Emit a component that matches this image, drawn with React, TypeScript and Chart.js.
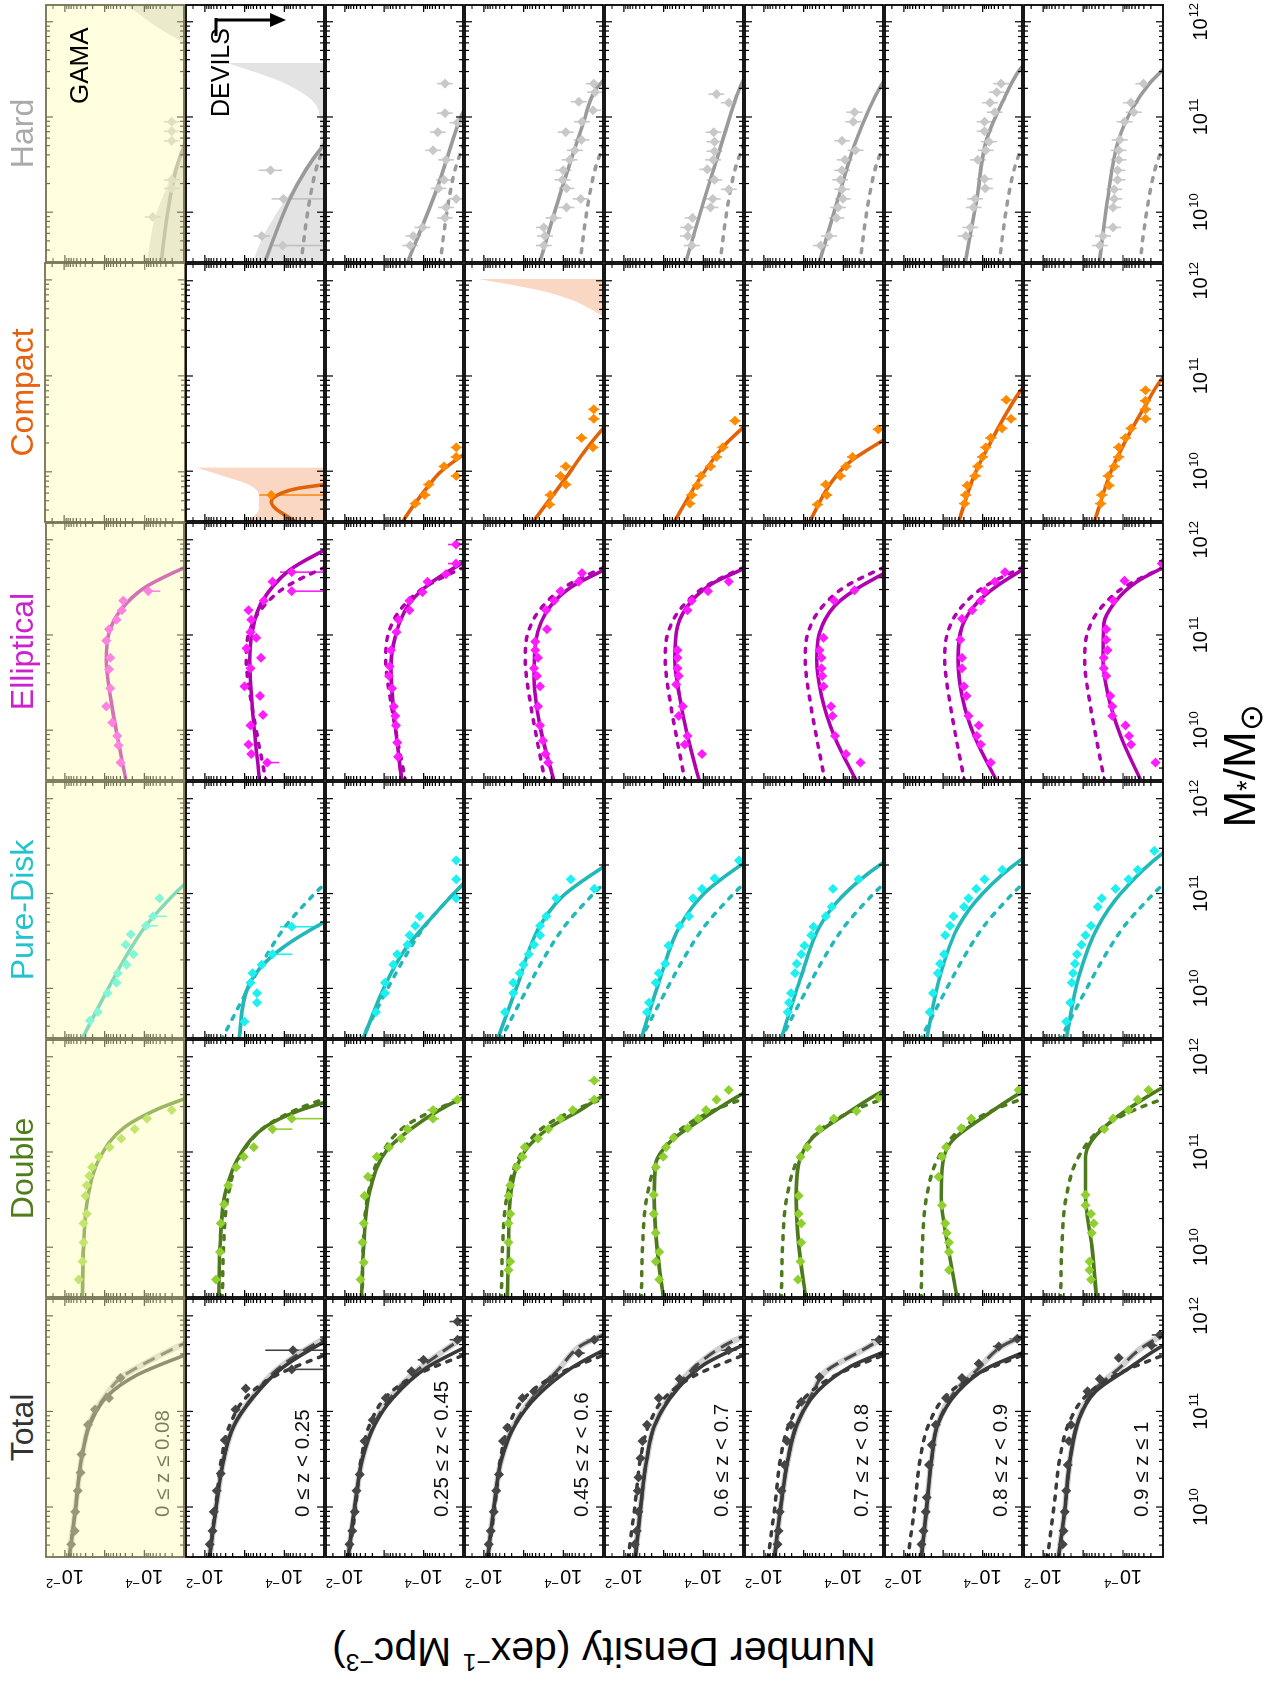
import React, { useEffect, useRef } from "react";
import { Chart, registerables } from "chart.js";

Chart.register(...registerables);

const FONT = '"Liberation Sans", Arial, Helvetica, sans-serif';

// ---------------- categories / labels ----------------
const MORPHS = ["Total", "Double", "Pure-Disk", "Elliptical", "Compact", "Hard"];
const Z_LABELS = [
  "0 ≤ z ≤ 0.08",
  "0 ≤ z < 0.25",
  "0.25 ≤ z < 0.45",
  "0.45 ≤ z < 0.6",
  "0.6 ≤ z < 0.7",
  "0.7 ≤ z < 0.8",
  "0.8 ≤ z < 0.9",
  "0.9 ≤ z ≤ 1",
];
const MASS_TICK_LABELS = [10, 11, 12]; // log10 M*/Msun
const DENS_TICK_LABELS = [-2, -4]; // log10 phi

// axis limits (log10 units)
const MASS_MIN = 9.477;
const MASS_MAX = 12.176;
const DENS_MIN = -5;
const DENS_MAX = -1.523;

// ---------------- colours ----------------
const TITLE_COLORS = ["#333333", "#4f7d1a", "#22c3cc", "#cc22cc", "#e8620e", "#aaaaaa"];
const LINE_COLORS = ["#3a3a3a", "#4d7a1c", "#22b8b8", "#b000b0", "#e26208", "#9a9a9a"];
const POINT_COLORS = ["#454545", "#8fd030", "#1cf0f0", "#ff1cff", "#ff8a00", "#c8c8c8"];
const DEFAULT_ERR = [0.06, 0.08, 0.1, 0.1, 0.14, 0.2];

// ---------------- data: [log M, log phi] fits; points [log M, log phi, err(, errLow)] ----------------
const FIT_TOTAL = [
  [[9.45,-2.1],[9.99,-2.27],[10.51,-2.42],[10.86,-2.63],[11.17,-3.09],[11.38,-3.81],[11.59,-5.02],[11.7,-5.7]],
  [[9.45,-2.11],[9.99,-2.28],[10.51,-2.48],[10.86,-2.74],[11.14,-3.2],[11.45,-3.93],[11.73,-5.01],[11.85,-5.6]],
  [[9.45,-2.08],[9.99,-2.25],[10.51,-2.45],[10.86,-2.76],[11.14,-3.22],[11.45,-4.05],[11.66,-5.0],[11.78,-5.6]],
  [[9.45,-2.09],[9.99,-2.25],[10.51,-2.45],[10.86,-2.79],[11.17,-3.36],[11.45,-4.19],[11.64,-5.01],[11.76,-5.6]],
  [[9.45,-2.28],[9.99,-2.42],[10.51,-2.58],[10.86,-2.78],[11.21,-3.3],[11.49,-4.02],[11.69,-4.98],[11.8,-5.6]],
  [[9.45,-2.26],[9.99,-2.42],[10.51,-2.61],[10.86,-2.83],[11.21,-3.35],[11.47,-4.18],[11.61,-4.95],[11.72,-5.6]],
  [[9.45,-2.44],[9.99,-2.58],[10.51,-2.71],[10.86,-2.86],[11.21,-3.38],[11.45,-4.1],[11.61,-4.99],[11.72,-5.6]],
  [[9.45,-2.38],[9.99,-2.55],[10.51,-2.68],[10.93,-2.91],[11.21,-3.32],[11.45,-4.14],[11.69,-5.01],[11.8,-5.6]],
];
const DASH_TOTAL = [
  [[9.45,-2.1],[10.0,-2.27],[10.5,-2.42],[10.9,-2.64],[11.15,-3.0],[11.35,-3.4],[11.5,-4.0],[11.71,-5.0],[11.85,-5.7]],
  [[9.45,-2.11],[9.99,-2.28],[10.51,-2.48],[10.86,-2.74],[11.14,-3.18],[11.45,-3.85],[11.76,-5.0],[11.88,-5.6]],
  [[9.45,-2.08],[9.99,-2.25],[10.51,-2.45],[10.86,-2.74],[11.14,-3.15],[11.4,-3.75],[11.59,-4.36],[11.77,-5.0],[11.9,-5.5]],
  [[9.45,-2.09],[9.99,-2.25],[10.51,-2.45],[10.86,-2.76],[11.17,-3.28],[11.45,-3.9],[11.69,-4.45],[11.8,-5.0],[11.9,-5.5]],
  [[9.45,-2.28],[9.99,-2.42],[10.51,-2.58],[10.86,-2.78],[11.21,-3.25],[11.49,-3.85],[11.69,-4.53],[11.78,-4.98],[11.88,-5.5]],
  [[9.45,-2.26],[9.99,-2.42],[10.51,-2.61],[10.86,-2.83],[11.21,-3.25],[11.42,-3.56],[11.64,-4.48],[11.75,-4.95],[11.85,-5.5]],
  [[9.45,-2.44],[9.99,-2.58],[10.51,-2.71],[10.86,-2.86],[11.21,-3.3],[11.45,-3.9],[11.69,-4.52],[11.78,-4.99],[11.88,-5.5]],
  [[9.45,-2.38],[9.99,-2.55],[10.51,-2.68],[10.93,-2.9],[11.21,-3.25],[11.45,-3.9],[11.66,-4.45],[11.8,-5.0],[11.9,-5.5]],
];
const PTS_TOTAL = [
  [[11.35,-3.4],[11.14,-3.11],[11.02,-2.76],[10.86,-2.58],[10.55,-2.42],[10.36,-2.39],[10.17,-2.32],[9.95,-2.26],[9.75,-2.25],[9.61,-2.16]],
  [[11.64,-4.22,0.7,0.8],[11.44,-4.19,0.05,0.8],[11.24,-3.03],[11.02,-2.77],[10.7,-2.5],[10.35,-2.4],[10.17,-2.3],[9.95,-2.22],[9.75,-2.19],[9.61,-2.12]],
  [[11.94,-4.86,0.2],[11.75,-4.86,0.2],[11.54,-4.0,0.15],[11.42,-3.69,0.1],[11.14,-3.04],[10.91,-2.71],[10.69,-2.5],[10.34,-2.38],[10.17,-2.3],[9.95,-2.25],[9.75,-2.19],[9.61,-2.12]],
  [[11.75,-4.78,0.2],[11.61,-4.39,0.15],[11.33,-3.67],[11.21,-3.26],[11.14,-2.97],[10.83,-2.59],[10.69,-2.48],[10.34,-2.38],[10.17,-2.31],[9.95,-2.25],[9.75,-2.17],[9.61,-2.12]],
  [[11.64,-4.64,0.2],[11.45,-3.81],[11.34,-3.4],[11.14,-2.88],[10.86,-2.58],[10.69,-2.47],[10.51,-2.42],[10.31,-2.37],[10.17,-2.35],[9.95,-2.37],[9.75,-2.32],[9.61,-2.27]],
  [[11.75,-4.9,0.2],[11.36,-3.4],[11.1,-2.94],[10.86,-2.68],[10.69,-2.58],[10.44,-2.52],[10.17,-2.44],[9.95,-2.4],[9.75,-2.37],[9.61,-2.34]],
  [[11.76,-4.88,0.2],[11.68,-4.41,0.15],[11.5,-3.9],[11.35,-3.48],[11.14,-3.07],[10.86,-2.81],[10.65,-2.71],[10.44,-2.64],[10.1,-2.58],[9.95,-2.56],[9.75,-2.5],[9.61,-2.45]],
  [[11.8,-4.92,0.2],[11.69,-4.71,0.15],[11.56,-3.89],[11.34,-3.42],[11.21,-3.11],[10.86,-2.7],[10.69,-2.65],[10.44,-2.62],[10.17,-2.58],[9.95,-2.54],[9.75,-2.51],[9.61,-2.49]],
];

const FIT_DOUBLE = [
  [[9.45,-2.44],[10.01,-2.47],[10.53,-2.58],[10.95,-2.89],[11.26,-3.5],[11.45,-4.33],[11.56,-5.02],[11.68,-5.8]],
  [[9.45,-2.35],[10.01,-2.38],[10.6,-2.53],[10.98,-2.9],[11.26,-3.51],[11.43,-4.34],[11.52,-5.01],[11.62,-5.8]],
  [[9.45,-2.42],[10.01,-2.48],[10.6,-2.64],[11.02,-3.07],[11.26,-3.74],[11.43,-4.36],[11.57,-5.0],[11.67,-5.6]],
  [[9.45,-2.59],[10.01,-2.62],[10.6,-2.69],[11.02,-3.05],[11.26,-3.67],[11.43,-4.39],[11.59,-5.01],[11.7,-5.6]],
  [[9.45,-3.0],[10.01,-2.83],[10.53,-2.76],[10.88,-2.8],[11.12,-3.2],[11.36,-4.02],[11.61,-4.98],[11.7,-5.4]],
  [[9.45,-3.06],[10.01,-2.88],[10.53,-2.81],[10.88,-2.88],[11.16,-3.25],[11.4,-4.07],[11.63,-4.95],[11.72,-5.4]],
  [[9.45,-3.36],[10.01,-3.12],[10.53,-2.95],[10.81,-2.97],[11.12,-3.23],[11.36,-4.0],[11.63,-4.99],[11.72,-5.4]],
  [[9.45,-3.34],[10.01,-3.22],[10.53,-3.06],[10.95,-3.06],[11.12,-3.22],[11.33,-3.73],[11.54,-4.45],[11.68,-5.01],[11.78,-5.5]],
];
const PTS_DOUBLE = [
  [[11.44,-4.69],[11.35,-4.07],[11.24,-3.76],[11.14,-3.42],[11.05,-3.12],[10.95,-2.85],[10.84,-2.68],[10.75,-2.61],[10.65,-2.55],[10.54,-2.52],[10.35,-2.55],[10.25,-2.47],[10.05,-2.47],[9.85,-2.44],[9.66,-2.35]],
  [[11.35,-4.19,0.05,0.8],[11.24,-3.7,0.1,0.5],[11.05,-3.23],[10.95,-2.98],[10.84,-2.79],[10.65,-2.59],[10.45,-2.48],[10.25,-2.4],[9.95,-2.38],[9.66,-2.28]],
  [[11.55,-4.86,0.15],[11.44,-4.24,0.15],[11.35,-4.24,0.15],[11.24,-3.59],[11.14,-3.43],[11.05,-3.12],[10.95,-2.81],[10.74,-2.59],[10.54,-2.5],[10.25,-2.48],[10.05,-2.45],[9.84,-2.48],[9.66,-2.4]],
  [[11.75,-4.78,0.15],[11.55,-4.78,0.15],[11.44,-4.24],[11.35,-3.93],[11.24,-3.62],[11.14,-3.36],[11.05,-3.03],[10.95,-2.97],[10.84,-2.82],[10.65,-2.66],[10.54,-2.62],[10.35,-2.66],[10.25,-2.62],[10.05,-2.62],[9.85,-2.66],[9.76,-2.62]],
  [[11.65,-4.64],[11.55,-4.33],[11.44,-4.07],[11.35,-3.87],[11.25,-3.61],[11.15,-3.25],[11.05,-3.06],[10.95,-2.99],[10.84,-2.8],[10.55,-2.75],[10.35,-2.75],[10.15,-2.8],[9.95,-2.89],[9.85,-2.8],[9.66,-2.89]],
  [[11.57,-4.9],[11.43,-4.33],[11.35,-3.76],[11.24,-3.4],[11.05,-3.09],[10.95,-2.92],[10.54,-2.88],[10.35,-2.88],[10.25,-2.94],[10.05,-2.94],[9.85,-2.92],[9.66,-2.86]],
  [[11.65,-4.91],[11.35,-3.71],[11.25,-3.46],[11.05,-3.07],[10.95,-2.97],[10.74,-2.88],[10.44,-2.97],[10.25,-3.05],[10.15,-3.09],[10.05,-3.15],[9.95,-3.15],[9.76,-3.15]],
  [[11.65,-4.64],[11.55,-4.37],[11.44,-4.14],[11.35,-3.75],[11.24,-3.53],[10.55,-3.06],[10.44,-3.06],[10.35,-3.2],[10.25,-3.27],[10.15,-3.22],[9.85,-3.16],[9.76,-3.16],[9.66,-3.2]],
];

const FIT_DISK = [
  [[9.45,-2.41],[9.92,-2.99],[10.31,-3.5],[10.65,-4.02],[10.9,-4.54],[11.1,-5.02],[11.25,-5.5]],
  [[9.45,-2.85],[10.03,-3.1],[10.27,-3.51],[10.48,-4.13],[10.7,-5.01],[10.85,-5.7]],
  [[9.45,-2.45],[10.03,-3.02],[10.41,-3.53],[10.72,-4.15],[11.1,-5.0],[11.25,-5.4]],
  [[9.45,-2.33],[10.03,-2.84],[10.62,-3.36],[10.97,-3.98],[11.28,-5.01],[11.4,-5.5]],
  [[9.45,-2.42],[10.13,-2.93],[10.65,-3.4],[11.0,-4.02],[11.31,-4.98],[11.42,-5.4]],
  [[9.45,-2.42],[10.13,-2.94],[10.65,-3.4],[10.97,-3.97],[11.31,-4.95],[11.42,-5.4]],
  [[9.45,-2.57],[10.13,-2.92],[10.65,-3.38],[11.0,-4.0],[11.36,-4.99],[11.46,-5.4]],
  [[9.45,-2.57],[10.13,-2.9],[10.65,-3.37],[11.0,-3.94],[11.43,-5.01],[11.53,-5.4]],
];
const PTS_DISK = [
  [[10.95,-4.38],[10.76,-4.22,0.1,0.35],[10.66,-4.04,0.1,0.3],[10.57,-3.66],[10.46,-3.53],[10.36,-3.73],[10.25,-3.55],[10.16,-3.33],[10.06,-3.3],[9.95,-3.07],[9.75,-2.83],[9.66,-2.63]],
  [[10.65,-4.19,0.3,0.7],[10.36,-3.7,0.1,0.5],[10.25,-3.43],[10.16,-3.2],[10.06,-3.15],[9.95,-3.31],[9.85,-3.31],[9.65,-3.0]],
  [[11.35,-4.83],[11.15,-4.83],[10.95,-4.83],[10.76,-3.9],[10.66,-3.79],[10.56,-3.64],[10.46,-3.59],[10.36,-3.33],[10.25,-3.23],[10.06,-3.02],[9.95,-3.02],[9.75,-2.79]],
  [[11.15,-4.19],[11.05,-4.78],[10.95,-3.82],[10.76,-3.57],[10.66,-3.41],[10.56,-3.41],[10.46,-3.26],[10.36,-3.13],[10.25,-3.0],[10.16,-2.9],[10.06,-2.74],[9.95,-2.74],[9.75,-2.53]],
  [[11.35,-4.9],[11.16,-4.28],[11.05,-3.97],[10.95,-3.74],[10.76,-3.64],[10.66,-3.4],[10.45,-3.12],[10.26,-3.04],[10.16,-2.88],[10.06,-2.8],[9.85,-2.63],[9.75,-2.58]],
  [[11.15,-4.38],[11.05,-3.74],[10.86,-3.71],[10.76,-3.56],[10.65,-3.25],[10.56,-3.19],[10.45,-3.02],[10.36,-2.94],[10.26,-2.83],[10.16,-2.78],[9.95,-2.68],[9.85,-2.63],[9.75,-2.6]],
  [[11.25,-4.5],[11.15,-4.05],[11.05,-3.84],[10.95,-3.64],[10.86,-3.53],[10.76,-3.26],[10.66,-3.17],[10.56,-3.05],[10.36,-3.02],[10.26,-2.92],[10.16,-2.86],[9.95,-2.74],[9.75,-2.66]],
  [[11.45,-4.78],[11.25,-4.37],[11.15,-4.14],[11.05,-3.81],[10.95,-3.47],[10.86,-3.37],[10.66,-3.2],[10.56,-3.06],[10.46,-2.96],[10.36,-2.85],[10.26,-2.8],[10.16,-2.75],[10.06,-2.72],[9.85,-2.68],[9.65,-2.58]],
];

const FIT_ELL = [
  [[9.45,-3.55],[9.87,-3.35],[10.29,-3.17],[10.74,-3.04],[11.02,-3.11],[11.26,-3.4],[11.5,-4.02],[11.71,-5.02],[11.85,-5.8]],
  [[9.45,-3.38],[10.22,-3.2],[10.74,-3.13],[11.05,-3.2],[11.33,-3.41],[11.68,-4.13],[11.89,-5.0],[12.0,-5.5]],
  [[9.45,-3.45],[10.05,-3.28],[10.64,-3.17],[10.98,-3.28],[11.33,-3.64],[11.54,-4.16],[11.76,-5.0],[11.9,-5.6]],
  [[9.45,-3.77],[10.05,-3.41],[10.57,-3.26],[10.95,-3.31],[11.3,-3.67],[11.5,-4.19],[11.68,-5.01],[11.8,-5.6]],
  [[9.45,-3.91],[9.94,-3.6],[10.36,-3.4],[10.74,-3.28],[11.09,-3.35],[11.36,-3.71],[11.54,-4.23],[11.69,-4.98],[11.8,-5.5]],
  [[9.45,-4.35],[9.94,-3.77],[10.36,-3.45],[10.74,-3.33],[11.02,-3.4],[11.3,-3.77],[11.47,-4.28],[11.63,-4.95],[11.75,-5.5]],
  [[9.45,-4.38],[9.94,-3.79],[10.36,-3.48],[10.74,-3.38],[11.09,-3.48],[11.33,-3.84],[11.5,-4.31],[11.68,-4.99],[11.8,-5.5]],
  [[9.45,-4.47],[9.94,-3.94],[10.36,-3.63],[10.74,-3.5],[11.12,-3.52],[11.36,-3.83],[11.56,-4.35],[11.71,-5.01],[11.82,-5.5]],
];
const PTS_ELL = [
  [[11.46,-4.1,0.1,0.3],[11.36,-3.47],[11.26,-3.43],[11.16,-3.3],[11.06,-3.11],[10.94,-3.04],[10.76,-3.14],[10.64,-3.11],[10.44,-3.14],[10.25,-3.04],[10.08,-3.19],[9.94,-3.32],[9.84,-3.35],[9.66,-3.4]],
  [[11.66,-4.19,0.3,0.8],[11.56,-3.7],[11.46,-4.19,0.05,0.8],[11.36,-3.48],[11.26,-3.1],[11.16,-3.17],[11.03,-3.15],[10.97,-3.29],[10.86,-3.05],[10.76,-3.41],[10.65,-3.15],[10.46,-3.0],[10.36,-3.39],[10.16,-3.46],[10.05,-3.15],[9.85,-3.1],[9.75,-3.17],[9.66,-3.57,0.1,0.3]],
  [[11.95,-4.82,0.2],[11.75,-4.82,0.2],[11.64,-4.57],[11.56,-4.1],[11.45,-3.97],[11.36,-3.64],[11.26,-3.64],[11.16,-3.36],[11.03,-3.31],[10.84,-3.17],[10.67,-3.14],[10.57,-3.12],[10.44,-3.2],[10.25,-3.24],[10.15,-3.28],[10.05,-3.3],[9.87,-3.33],[9.72,-3.35]],
  [[11.65,-4.47],[11.56,-4.39],[11.46,-3.93],[11.36,-3.77],[11.26,-3.57],[11.06,-3.59],[10.93,-3.29],[10.84,-3.29],[10.76,-3.36],[10.65,-3.26],[10.57,-3.34],[10.46,-3.41],[10.25,-3.36],[10.05,-3.41],[9.89,-3.49],[9.75,-3.55],[9.66,-3.62]],
  [[11.56,-4.64],[11.46,-4.12],[11.36,-3.71],[11.26,-3.6],[10.84,-3.35],[10.76,-3.35],[10.65,-3.35],[10.57,-3.38],[10.48,-3.32],[10.25,-3.48],[10.15,-3.38],[9.94,-3.6],[9.85,-3.53],[9.75,-3.97]],
  [[11.47,-4.28],[11.36,-3.77],[10.97,-3.5],[10.84,-3.4],[10.76,-3.45],[10.65,-3.45],[10.57,-3.47],[10.46,-3.5],[10.25,-3.69],[10.15,-3.73],[9.94,-3.79],[9.75,-4.07],[9.66,-4.43]],
  [[11.66,-4.57],[11.56,-4.31],[11.46,-4.05],[11.36,-3.95],[11.26,-3.74],[11.17,-3.48],[10.95,-3.43],[10.76,-3.48],[10.65,-3.48],[10.46,-3.53],[10.36,-3.59],[10.15,-3.64],[10.05,-3.9],[9.94,-3.85],[9.85,-3.95],[9.66,-4.21]],
  [[11.75,-4.97],[11.57,-4.04],[11.36,-3.76],[11.06,-3.58],[10.95,-3.58],[10.84,-3.61],[10.76,-3.52],[10.65,-3.52],[10.57,-3.58],[10.36,-3.68],[10.25,-3.73],[10.15,-3.73],[10.05,-4.06],[9.94,-4.15],[9.85,-4.2],[9.66,-4.81]],
];

const FIT_COMPACT = [
  [],
  [[9.45,-4.35],[9.51,-4.13],[9.61,-3.77],[9.68,-3.67],[9.77,-3.93],[9.82,-4.34],[9.86,-5.01],[9.92,-5.8]],
  [[9.45,-3.43],[9.7,-3.85],[9.86,-4.15],[10.0,-4.45],[10.17,-5.0],[10.3,-5.5]],
  [[9.45,-3.2],[9.94,-4.08],[10.2,-4.52],[10.45,-5.01],[10.6,-5.4]],
  [[9.45,-3.24],[9.96,-3.97],[10.27,-4.53],[10.45,-4.98],[10.6,-5.4]],
  [[9.45,-3.13],[9.86,-3.66],[10.1,-4.17],[10.31,-4.95],[10.42,-5.4]],
  [[9.45,-3.38],[9.96,-3.79],[10.31,-4.21],[10.62,-4.62],[10.86,-4.99],[11.0,-5.3]],
  [[9.45,-3.27],[10.03,-3.73],[10.38,-4.14],[10.69,-4.56],[10.99,-5.01],[11.1,-5.3]],
];
const PTS_COMPACT = [
  [],
  [[9.75,-3.67,0.3,1.4]],
  [[10.25,-4.83],[10.15,-4.83],[10.05,-4.52],[9.95,-4.83],[9.86,-4.13],[9.75,-4.03],[9.66,-3.79]],
  [[10.65,-4.77],[10.55,-4.77],[10.35,-4.46],[10.25,-4.75],[10.05,-4.06],[9.95,-3.93],[9.86,-4.06],[9.75,-3.67],[9.65,-3.65]],
  [[10.53,-4.8],[10.25,-4.49],[10.15,-4.33],[10.05,-4.18],[9.95,-3.94],[9.85,-3.85],[9.75,-3.71],[9.66,-3.66]],
  [[10.44,-4.88],[10.15,-4.23],[10.05,-4.07],[9.95,-3.92],[9.86,-3.56],[9.75,-3.58],[9.65,-3.35]],
  [[10.75,-4.6],[10.55,-4.72],[10.45,-4.49],[10.35,-4.21],[10.25,-4.08],[10.15,-4.0],[10.05,-3.88],[9.95,-3.81],[9.85,-3.61],[9.75,-3.57],[9.66,-3.54]],
  [[10.85,-4.56],[10.74,-4.56],[10.65,-4.56],[10.55,-4.56],[10.45,-4.2],[10.35,-4.06],[10.25,-3.89],[10.15,-3.89],[10.05,-3.78],[9.95,-3.63],[9.85,-3.65],[9.75,-3.47],[9.66,-3.44]],
];

const FIT_HARD = [
  [[9.45,-4.42],[9.8,-4.52],[10.13,-4.64],[10.45,-4.8],[10.7,-5.0],[11.0,-5.25]],
  [[9.45,-3.49],[9.8,-3.8],[10.13,-4.13],[10.45,-4.55],[10.69,-4.96],[10.85,-5.3]],
  [[9.45,-3.57],[10.27,-4.36],[10.93,-4.88],[11.05,-5.0],[11.2,-5.2]],
  [[9.45,-3.39],[10.27,-3.98],[10.93,-4.5],[11.28,-4.8],[11.38,-5.0],[11.5,-5.2]],
  [[9.45,-3.54],[10.13,-4.02],[10.76,-4.49],[11.21,-4.83],[11.38,-5.0],[11.5,-5.2]],
  [[9.45,-3.38],[10.13,-3.86],[10.76,-4.33],[11.33,-4.95],[11.45,-5.15]],
  [[9.45,-3.55],[10.13,-3.85],[10.76,-4.1],[11.17,-4.52],[11.49,-4.93],[11.6,-5.15]],
  [[9.45,-3.4],[10.13,-3.61],[10.76,-3.89],[11.1,-4.25],[11.35,-4.66],[11.5,-5.0],[11.6,-5.2]],
];
const PTS_HARD = [
  [[10.95,-4.69],[10.85,-4.69],[10.75,-4.69],[10.34,-4.69],[10.25,-4.69],[9.95,-4.21]],
  [[10.44,-3.65,0.3],[10.14,-3.98,0.3,1.0],[9.75,-3.43,0.2],[9.65,-3.96,0.25,1.0]],
  [[11.35,-4.54],[11.04,-4.54],[10.84,-4.36],[10.94,-4.86],[10.65,-4.24],[10.55,-4.57],[10.34,-4.52],[10.25,-4.38],[10.14,-4.83],[10.05,-4.57],[9.94,-4.54],[9.84,-3.97],[9.75,-3.74],[9.65,-3.66]],
  [[11.35,-4.77],[11.26,-4.8],[11.16,-4.39],[11.07,-4.75],[10.95,-4.47],[10.84,-4.06],[10.76,-4.46],[10.65,-4.29],[10.55,-4.16],[10.44,-4.0],[10.34,-3.98],[10.25,-4.08],[10.14,-4.44],[10.05,-4.08],[9.94,-3.75],[9.84,-3.51],[9.75,-3.54],[9.65,-3.51]],
  [[11.24,-4.33],[11.15,-4.64],[10.84,-4.26],[10.74,-4.28],[10.64,-4.28],[10.55,-4.25],[10.45,-4.1],[10.34,-4.28],[10.24,-4.64],[10.14,-4.24],[10.05,-4.18],[9.94,-3.73],[9.84,-3.62],[9.75,-3.61],[9.65,-3.71]],
  [[11.05,-4.28],[10.95,-4.25],[10.75,-3.97],[10.65,-4.31],[10.55,-4.04],[10.44,-3.97],[10.34,-3.92],[10.24,-3.97],[10.14,-3.99],[10.05,-3.87],[9.94,-3.83],[9.75,-3.64],[9.65,-3.43]],
  [[11.35,-4.47],[11.26,-4.36],[11.15,-4.19],[11.05,-4.31],[10.95,-4.05],[10.85,-4.05],[10.74,-4.16],[10.65,-4.08],[10.55,-3.88],[10.35,-4.05],[10.25,-4.07],[10.14,-3.81],[10.05,-3.77],[9.84,-3.69],[9.75,-3.57]],
  [[11.35,-4.51],[11.15,-4.2],[11.05,-4.27],[10.95,-4.04],[10.76,-3.92],[10.65,-3.89],[10.55,-3.89],[10.44,-3.86],[10.34,-3.86],[10.24,-3.78],[10.14,-3.78],[10.05,-3.75],[9.84,-3.75],[9.75,-3.5],[9.65,-3.42]],
];

// confidence regions (upper boundary, filled towards low density)
const BAND_HARD_GAMA = [[9.45,-4.05],[9.96,-4.28],[10.3,-4.6],[10.7,-4.98],[11.0,-5.3],[11.4,-5.3],[11.76,-5.02],[11.94,-4.33],[12.08,-3.87],[12.2,-3.45]];
const BAND_HARD_Z1 = [[9.45,-3.18],[9.78,-3.51],[10.27,-4.24],[10.76,-4.91],[11.07,-4.86],[11.35,-4.03],[11.57,-2.55]];
const BAND_COMPACT_Z1 = [[9.45,-3.05],[9.61,-3.36],[9.75,-3.36],[9.86,-3.1],[9.96,-2.38],[10.04,-1.76]];
const BAND_COMPACT_Z3 = [[11.6,-5.1],[11.7,-4.7],[11.8,-4.2],[11.9,-3.4],[12.02,-1.85]];

const FITS = [FIT_TOTAL, FIT_DOUBLE, FIT_DISK, FIT_ELL, FIT_COMPACT, FIT_HARD];
const PTS = [PTS_TOTAL, PTS_DOUBLE, PTS_DISK, PTS_ELL, PTS_COMPACT, PTS_HARD];
const BANDS = [
  { c: 5, r: 0, pts: BAND_HARD_GAMA, color: "rgba(175,175,175,0.45)" },
  { c: 5, r: 1, pts: BAND_HARD_Z1, color: "rgba(175,175,175,0.35)" },
  { c: 4, r: 1, pts: BAND_COMPACT_Z1, color: "rgba(240,140,80,0.35)" },
  { c: 4, r: 3, pts: BAND_COMPACT_Z3, color: "rgba(240,140,80,0.35)" },
];

// ---------------- layout (landscape figure, rotated onto the page) ----------------
const FIG_W = 1704;
const FIG_H = 1281;
const COL_EDGES = [147, 406, 665, 923, 1182, 1441, 1700];
const ROW_EDGES = [45, 185, 325, 464, 604, 744, 884, 1023, 1163];

const PANELS: any[] = [];
for (let c = 0; c < 6; c++) {
  for (let r = 0; r < 8; r++) {
    const padL = c === 0 ? 48 : 4;
    const padR = 4;
    const padT = 4;
    const padB = r === 7 ? 62 : 4;
    const x0 = COL_EDGES[c];
    const x1 = COL_EDGES[c + 1];
    const y0 = ROW_EDGES[r];
    const y1 = ROW_EDGES[r + 1];
    PANELS.push({
      c, r, padL, padR, padT, padB,
      left: x0 - padL, top: y0 - padT,
      w: x1 - x0 + padL + padR, h: y1 - y0 + padT + padB,
    });
  }
}

const xy = (a: number[][]) => a.map((p) => ({ x: p[0], y: p[1] }));

function buildDatasets(c: number, r: number) {
  const ds: any[] = [];
  const lc = LINE_COLORS[c];
  const pc = POINT_COLORS[c];
  BANDS.filter((b) => b.c === c && b.r === r).forEach((b) => {
    ds.push({
      data: xy(b.pts), fill: "start", backgroundColor: b.color, borderWidth: 0,
      pointRadius: 0, cubicInterpolationMode: "monotone", clip: 0, order: 6,
    });
  });
  if (c === 0) {
    ds.push({
      data: xy(DASH_TOTAL[r]), borderColor: "rgba(190,190,190,0.7)", borderWidth: 6,
      pointRadius: 0, cubicInterpolationMode: "monotone", clip: 0, order: 5,
    });
    ds.push({
      data: xy(DASH_TOTAL[r]), borderColor: "#4a4a4a", borderWidth: 3, borderDash: [13, 7],
      pointRadius: 0, cubicInterpolationMode: "monotone", clip: 0, order: 4,
    });
  }
  const fits = FITS[c];
  if (r > 0 && fits[0].length) {
    ds.push({
      data: xy(fits[0]), borderColor: lc, borderWidth: 3.5, borderDash: [4, 8],
      borderCapStyle: "round", pointRadius: 0, cubicInterpolationMode: "monotone", clip: 0, order: 3,
    });
  }
  if (fits[r].length) {
    ds.push({
      data: xy(fits[r]), borderColor: lc, borderWidth: 3.6, borderJoinStyle: "round",
      pointRadius: 0, cubicInterpolationMode: "monotone", clip: 0, order: 2,
    });
  }
  const pts = PTS[c][r];
  if (pts.length) {
    ds.push({
      data: xy(pts), showLine: false, pointStyle: "rectRot", pointRadius: 5,
      pointBackgroundColor: pc, pointBorderColor: pc, pointBorderWidth: 0, clip: 0, order: 1,
    });
  }
  return ds;
}

function drawPow(ctx: CanvasRenderingContext2D, cx: number, baseY: number, exp: string) {
  ctx.font = `20px ${FONT}`;
  const w1 = ctx.measureText("10").width;
  ctx.font = `13px ${FONT}`;
  const w2 = ctx.measureText(exp).width;
  const start = cx - (w1 + w2 + 1) / 2;
  ctx.font = `20px ${FONT}`;
  ctx.fillText("10", start, baseY);
  ctx.font = `13px ${FONT}`;
  ctx.fillText(exp, start + w1 + 1, baseY - 9);
}

function makePlugin(c: number, r: number) {
  const pts = PTS[c][r];
  return {
    id: `panel_${c}_${r}`,
    beforeDatasetsDraw(chart: any) {
      const { ctx, chartArea: a } = chart;
      const xs = chart.scales.x;
      const ys = chart.scales.y;
      ctx.save();
      ctx.beginPath();
      ctx.rect(a.left, a.top, a.right - a.left, a.bottom - a.top);
      ctx.clip();
      ctx.strokeStyle = POINT_COLORS[c];
      ctx.lineWidth = 1.6;
      pts.forEach((p: number[]) => {
        const eHi = p.length > 2 ? p[2] : DEFAULT_ERR[c];
        const eLo = p.length > 3 ? p[3] : eHi;
        const px = xs.getPixelForValue(p[0]);
        ctx.beginPath();
        ctx.moveTo(px, ys.getPixelForValue(p[1] + eHi));
        ctx.lineTo(px, ys.getPixelForValue(p[1] - eLo));
        ctx.stroke();
      });
      ctx.restore();
    },
    afterDatasetsDraw(chart: any) {
      const { ctx, chartArea: a } = chart;
      const xs = chart.scales.x;
      const ys = chart.scales.y;
      const w = a.right - a.left;
      const h = a.bottom - a.top;
      ctx.save();
      // redshift label
      if (c === 0) {
        ctx.fillStyle = "#111";
        ctx.font = `20.5px ${FONT}`;
        ctx.textBaseline = "alphabetic";
        ctx.textAlign = "left";
        ctx.fillText(Z_LABELS[r], a.left + 40, a.bottom - 15);
      }
      // frame
      ctx.strokeStyle = "#000";
      ctx.lineWidth = 1.8;
      ctx.strokeRect(a.left, a.top, w, h);
      // ticks
      ctx.lineWidth = 1.2;
      ctx.beginPath();
      for (let n = 9; n <= 12; n++) {
        for (let k = 1; k <= 9; k++) {
          const v = n + Math.log10(k);
          if (v <= MASS_MIN + 0.004 || v >= MASS_MAX - 0.004) continue;
          const px = xs.getPixelForValue(v);
          const L = k === 1 ? 7 : 4;
          ctx.moveTo(px, a.top); ctx.lineTo(px, a.top + L);
          ctx.moveTo(px, a.bottom); ctx.lineTo(px, a.bottom - L);
        }
      }
      for (let n = -5; n <= -2; n++) {
        for (let k = 1; k <= 9; k++) {
          const v = n + Math.log10(k);
          if (v <= DENS_MIN + 0.004 || v >= DENS_MAX - 0.004) continue;
          const py = ys.getPixelForValue(v);
          const L = k === 1 ? 7 : 4;
          ctx.moveTo(a.left, py); ctx.lineTo(a.left + L, py);
          ctx.moveTo(a.right, py); ctx.lineTo(a.right - L, py);
        }
      }
      ctx.stroke();
      // GAMA tint
      if (r === 0) {
        ctx.fillStyle = "rgba(255,255,186,0.45)";
        ctx.fillRect(a.left - 1, a.top - 1, w + 2, h + 2);
      }
      // tick labels
      ctx.fillStyle = "#000";
      ctx.textAlign = "left";
      ctx.textBaseline = "alphabetic";
      if (r === 7) {
        MASS_TICK_LABELS.forEach((m) => {
          drawPow(ctx, xs.getPixelForValue(m), a.bottom + 44, String(m));
        });
      }
      if (c === 0) {
        DENS_TICK_LABELS.forEach((d) => {
          ctx.save();
          ctx.translate(a.left - 13, ys.getPixelForValue(d));
          ctx.rotate(-Math.PI / 2);
          drawPow(ctx, 0, 0, "\u2212" + String(-d));
          ctx.restore();
        });
      }
      // survey annotations
      if (c === 5 && r === 0) {
        ctx.font = `26px ${FONT}`;
        ctx.fillText("GAMA", a.left + 158, a.top + 42);
      }
      if (c === 5 && r === 1) {
        ctx.font = `25px ${FONT}`;
        ctx.fillText("DEVILS", a.left + 145, a.top + 43);
        ctx.strokeStyle = "#000";
        ctx.lineWidth = 3;
        ctx.beginPath();
        ctx.moveTo(a.left + 226, a.top + 30); ctx.lineTo(a.left + 244, a.top + 30);
        ctx.moveTo(a.left + 242, a.top + 30); ctx.lineTo(a.left + 242, a.top + 86);
        ctx.stroke();
        ctx.beginPath();
        ctx.moveTo(a.left + 235, a.top + 84);
        ctx.lineTo(a.left + 249, a.top + 84);
        ctx.lineTo(a.left + 242, a.top + 100);
        ctx.closePath();
        ctx.fill();
      }
      ctx.restore();
    },
  };
}

function makeConfig(p: any): any {
  return {
    type: "line",
    data: { datasets: buildDatasets(p.c, p.r) },
    options: {
      responsive: false,
      maintainAspectRatio: false,
      animation: false,
      devicePixelRatio: 1,
      events: [],
      layout: { padding: { left: p.padL, right: p.padR, top: p.padT, bottom: p.padB } },
      scales: {
        x: { type: "linear", min: MASS_MIN, max: MASS_MAX, display: false },
        y: { type: "linear", min: DENS_MIN, max: DENS_MAX, display: false },
      },
      plugins: { legend: { display: false }, tooltip: { enabled: false } },
    },
    plugins: [makePlugin(p.c, p.r)],
  };
}

export default function App() {
  const refs = useRef<(HTMLCanvasElement | null)[]>([]);

  useEffect(() => {
    document.documentElement.style.overflow = "hidden";
    document.body.style.overflow = "hidden";
    const charts: Chart[] = [];
    PANELS.forEach((p, i) => {
      const cv = refs.current[i];
      if (cv) charts.push(new Chart(cv, makeConfig(p)));
    });
    return () => {
      charts.forEach((ch) => ch.destroy());
    };
  }, []);

  return (
    <div
      style={{
        position: "absolute",
        left: 0,
        top: 0,
        width: FIG_W,
        height: FIG_H,
        transform: `translate(0px, ${FIG_W}px) rotate(-90deg)`,
        transformOrigin: "0 0",
        background: "#ffffff",
        fontFamily: FONT,
        overflow: "hidden",
      }}
    >
      {PANELS.map((p, i) => (
        <canvas
          key={i}
          ref={(el) => {
            refs.current[i] = el;
          }}
          width={p.w}
          height={p.h}
          style={{ position: "absolute", left: p.left, top: p.top, width: p.w, height: p.h }}
        />
      ))}
      {MORPHS.map((m, c) => (
        <div
          key={m}
          style={{
            position: "absolute",
            left: (COL_EDGES[c] + COL_EDGES[c + 1]) / 2,
            top: 6,
            transform: "translateX(-50%)",
            fontSize: 32,
            lineHeight: "32px",
            color: TITLE_COLORS[c],
            whiteSpace: "nowrap",
          }}
        >
          {m}
        </div>
      ))}
      <div
        style={{
          position: "absolute",
          left: 938,
          top: 1218,
          transform: "translateX(-50%)",
          fontSize: 44,
          lineHeight: "44px",
          color: "#000",
          whiteSpace: "nowrap",
        }}
      >
        M<span style={{ fontSize: "0.62em", verticalAlign: "-0.05em" }}>*</span>/M
        <span style={{ fontSize: "0.72em", verticalAlign: "-0.22em" }}>⊙</span>
      </div>
      <div
        style={{
          position: "absolute",
          left: 47,
          top: 604,
          transform: "translate(-50%, -50%) rotate(-90deg)",
          fontSize: 41,
          lineHeight: "44px",
          color: "#000",
          whiteSpace: "nowrap",
        }}
      >
        Number Density (dex<span style={{ fontSize: "0.6em", verticalAlign: "0.65em" }}>−1</span> Mpc
        <span style={{ fontSize: "0.6em", verticalAlign: "0.65em" }}>−3</span>)
      </div>
    </div>
  );
}
